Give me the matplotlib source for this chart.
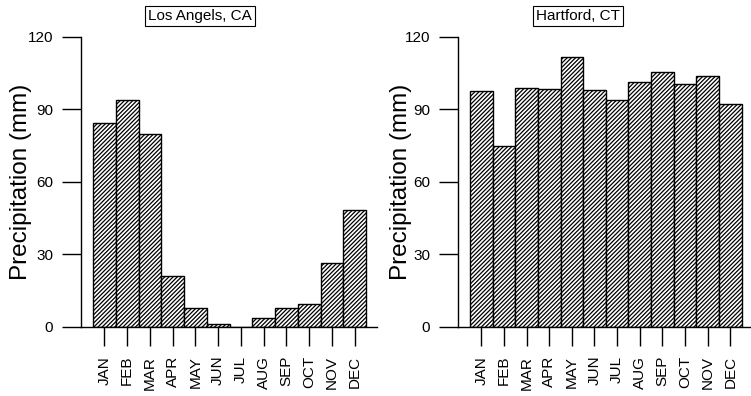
import matplotlib
matplotlib.use("Agg")
import matplotlib.pyplot as plt
import numpy as np

MONTHS = ["JAN", "FEB", "MAR", "APR", "MAY", "JUN",
          "JUL", "AUG", "SEP", "OCT", "NOV", "DEC"]
LA_PRECIP = [84.4, 93.7, 79.6, 20.9, 7.9, 1.2, 0.0, 3.5, 7.9, 9.5, 26.4, 48.3]
HARTFORD_PRECIP = [97.6, 75.0, 98.9, 98.5, 111.7, 98.1, 93.7, 101.5, 105.3, 100.3, 103.6, 92.0]
Y_TICKS = [0, 30, 60, 90, 120]

plt.rcParams["font.family"] = ["Liberation Sans", "DejaVu Sans"]
plt.rcParams["hatch.linewidth"] = 0.9

fig = plt.figure(figsize=(7.51, 3.96), dpi=100)

panels = [
    ("Los Angels, CA", LA_PRECIP, [81 / 751, 0.175, 296 / 751, 0.732], 11.98, 200, -0.166),
    ("Hartford, CT", HARTFORD_PRECIP, [458 / 751, 0.175, 292 / 751, 0.732], 11.87, 578, -0.158),
]

for title, values, rect, xmax, title_x, label_x in panels:
    ax = fig.add_axes(rect)
    x = np.arange(len(MONTHS))
    ax.bar(x, values, width=1.0, color="white", edgecolor="black",
           linewidth=1.0, hatch="////////")
    ax.set_xlim(-1.03, xmax)
    ax.set_ylim(0, 120)
    ax.set_yticks(Y_TICKS)
    ax.set_xticks(x)
    ax.set_xticklabels(MONTHS, rotation=90, fontsize=11)
    ax.tick_params(axis="both", length=14, width=1.0, direction="out",
                   labelsize=11, pad=6)
    ax.tick_params(axis="x", pad=7)
    for side in ["top", "right"]:
        ax.spines[side].set_visible(False)
    ax.spines["left"].set_linewidth(1.0)
    ax.spines["bottom"].set_linewidth(1.0)
    ax.set_ylabel("Precipitation (mm)", fontsize=17.5)
    ax.yaxis.set_label_coords(label_x, 0.5)
    fig.text(title_x / 751, 1 - 16 / 396, title, ha="center", va="center",
             fontsize=11,
             bbox=dict(boxstyle="square,pad=0.2", facecolor="white",
                       edgecolor="black", linewidth=0.8))

fig.savefig("out.png", dpi=100)
